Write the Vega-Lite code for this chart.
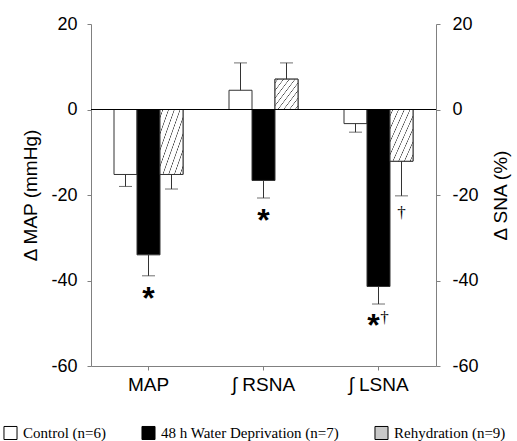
{
  "$schema": "https://vega.github.io/schema/vega-lite/v6.json",
  "width": 345,
  "height": 342,
  "autosize": {"type": "none"},
  "padding": {"left": 91, "top": 24, "right": 81, "bottom": 75},
  "background": "white",
  "config": {
    "view": {"stroke": null},
    "axis": {
      "labelFont": "Liberation Sans",
      "titleFont": "Liberation Sans",
      "labelColor": "black",
      "titleColor": "black",
      "titleFontWeight": "normal",
      "domainColor": "#808080",
      "tickColor": "#808080",
      "grid": false
    },
    "legend": {
      "labelFont": "Liberation Serif",
      "labelColor": "black"
    }
  },
  "data": {
    "values": [
      {"group": "MAP", "series": "Control (n=6)", "value": -15.2, "end": -18.0, "star": 0, "dagger": 0},
      {"group": "MAP", "series": "48 h Water Deprivation (n=7)", "value": -34.0, "end": -38.9, "star": 1, "dagger": 0},
      {"group": "MAP", "series": "Rehydration (n=9)", "value": -15.2, "end": -18.6, "star": 0, "dagger": 0},
      {"group": "∫ RSNA", "series": "Control (n=6)", "value": 4.5, "end": 10.9, "star": 0, "dagger": 0},
      {"group": "∫ RSNA", "series": "48 h Water Deprivation (n=7)", "value": -16.6, "end": -20.7, "star": 1, "dagger": 0},
      {"group": "∫ RSNA", "series": "Rehydration (n=9)", "value": 7.1, "end": 10.9, "star": 0, "dagger": 0},
      {"group": "∫ LSNA", "series": "Control (n=6)", "value": -3.3, "end": -5.3, "star": 0, "dagger": 0},
      {"group": "∫ LSNA", "series": "48 h Water Deprivation (n=7)", "value": -41.4, "end": -45.5, "star": 1, "dagger": 1},
      {"group": "∫ LSNA", "series": "Rehydration (n=9)", "value": -12.1, "end": -20.2, "star": 0, "dagger": 1}
    ]
  },
  "encoding": {
    "x": {
      "field": "group", "type": "nominal", "sort": ["MAP", "∫ RSNA", "∫ LSNA"],
      "scale": {"paddingInner": 0.4, "paddingOuter": 0.2},
      "axis": {"title": null, "labelAngle": 0, "labelFontSize": 19, "tickSize": 4, "labelPadding": 5}
    },
    "xOffset": {
      "field": "series", "type": "nominal",
      "sort": ["Control (n=6)", "48 h Water Deprivation (n=7)", "Rehydration (n=9)"]
    }
  },
  "layer": [
    {
      "mark": {"type": "bar", "stroke": "#333", "strokeWidth": 1},
      "encoding": {
        "y": {
          "field": "value", "type": "quantitative",
          "scale": {"domain": [-60, 20], "nice": false},
          "axis": {"orient": "left", "title": "Δ MAP (mmHg)", "values": [-60, -40, -20, 0, 20], "labelExpr": "'' + datum.value", "labelFontSize": 18, "titleFontSize": 19, "tickSize": 4, "labelPadding": 10, "titlePadding": 10}
        },
        "fill": {
          "field": "series", "type": "nominal",
          "sort": ["Control (n=6)", "48 h Water Deprivation (n=7)", "Rehydration (n=9)"],
          "scale": {
            "domain": ["Control (n=6)", "48 h Water Deprivation (n=7)", "Rehydration (n=9)"],
            "range": ["#ffffff", "#000000", "#c8c8c8"]
          },
          "legend": {
            "title": null, "orient": "none", "direction": "horizontal",
            "legendX": -88, "legendY": 401,
            "symbolType": "square", "symbolSize": 170,
            "symbolStrokeColor": "#000000", "symbolStrokeWidth": 1,
            "labelFontSize": 15, "labelOffset": 5, "columnPadding": 32, "labelLimit": 400
          }
        }
      }
    },
    {
      "transform": [{"filter": "datum.series == 'Rehydration (n=9)'"}],
      "mark": {
        "type": "bar", "stroke": "#333", "strokeWidth": 1,
        "fill": {
          "gradient": "linear", "x1": 0, "y1": 0, "x2": 1, "y2": 1,
          "stops": [
            {"offset": 0, "color": "#ffffff"},
            {"offset": 0.0475, "color": "#ffffff"}, {"offset": 0.0625, "color": "#444444"}, {"offset": 0.0775, "color": "#ffffff"},
            {"offset": 0.1725, "color": "#ffffff"}, {"offset": 0.1875, "color": "#444444"}, {"offset": 0.2025, "color": "#ffffff"},
            {"offset": 0.2975, "color": "#ffffff"}, {"offset": 0.3125, "color": "#444444"}, {"offset": 0.3275, "color": "#ffffff"},
            {"offset": 0.4225, "color": "#ffffff"}, {"offset": 0.4375, "color": "#444444"}, {"offset": 0.4525, "color": "#ffffff"},
            {"offset": 0.5475, "color": "#ffffff"}, {"offset": 0.5625, "color": "#444444"}, {"offset": 0.5775, "color": "#ffffff"},
            {"offset": 0.6725, "color": "#ffffff"}, {"offset": 0.6875, "color": "#444444"}, {"offset": 0.7025, "color": "#ffffff"},
            {"offset": 0.7975, "color": "#ffffff"}, {"offset": 0.8125, "color": "#444444"}, {"offset": 0.8275, "color": "#ffffff"},
            {"offset": 0.9225, "color": "#ffffff"}, {"offset": 0.9375, "color": "#444444"}, {"offset": 0.9525, "color": "#ffffff"},
            {"offset": 1, "color": "#ffffff"}
          ]
        }
      },
      "encoding": {
        "y": {"field": "value", "type": "quantitative", "axis": null}
      }
    },
    {
      "mark": {"type": "rule", "color": "#333", "strokeWidth": 1},
      "encoding": {
        "y": {"field": "value", "type": "quantitative", "axis": null},
        "y2": {"field": "end"}
      }
    },
    {
      "mark": {"type": "tick", "orient": "horizontal", "color": "#333", "size": 13, "thickness": 1},
      "encoding": {
        "y": {"field": "end", "type": "quantitative", "axis": null}
      }
    },
    {
      "mark": {"type": "rule", "color": "#000", "strokeWidth": 1},
      "encoding": {
        "x": null,
        "xOffset": null,
        "y": {
          "datum": 0, "type": "quantitative",
          "axis": {"orient": "right", "title": "Δ SNA (%)", "titleAngle": -90, "titleX": 64, "titleY": 171, "titleAlign": "center", "titleBaseline": "middle", "values": [-60, -40, -20, 0, 20], "labelExpr": "'' + datum.value", "labelFontSize": 18, "titleFontSize": 19, "tickSize": 4, "labelPadding": 12}
        }
      }
    },
    {
      "transform": [{"filter": "datum.star == 1 && datum.dagger == 0"}],
      "mark": {"type": "text", "font": "Liberation Sans", "fontWeight": "bold", "fontSize": 32, "baseline": "alphabetic", "dy": 33, "color": "#000"},
      "encoding": {"y": {"field": "end", "type": "quantitative", "axis": null}, "text": {"value": "*"}}
    },
    {
      "transform": [{"filter": "datum.star == 1 && datum.dagger == 1"}],
      "mark": {"type": "text", "font": "Liberation Sans", "fontWeight": "bold", "fontSize": 32, "baseline": "alphabetic", "dy": 32, "dx": -5, "color": "#000"},
      "encoding": {"y": {"field": "end", "type": "quantitative", "axis": null}, "text": {"value": "*"}}
    },
    {
      "transform": [{"filter": "datum.star == 0 && datum.dagger == 1"}],
      "mark": {"type": "text", "font": "Liberation Serif", "fontSize": 17, "baseline": "alphabetic", "dy": 22, "color": "#000"},
      "encoding": {"y": {"field": "end", "type": "quantitative", "axis": null}, "text": {"value": "†"}}
    },
    {
      "transform": [{"filter": "datum.star == 1 && datum.dagger == 1"}],
      "mark": {"type": "text", "font": "Liberation Serif", "fontSize": 17, "baseline": "alphabetic", "dy": 19, "dx": 6, "color": "#000"},
      "encoding": {"y": {"field": "end", "type": "quantitative", "axis": null}, "text": {"value": "†"}}
    }
  ],
  "resolve": {"axis": {"y": "independent"}}
}
